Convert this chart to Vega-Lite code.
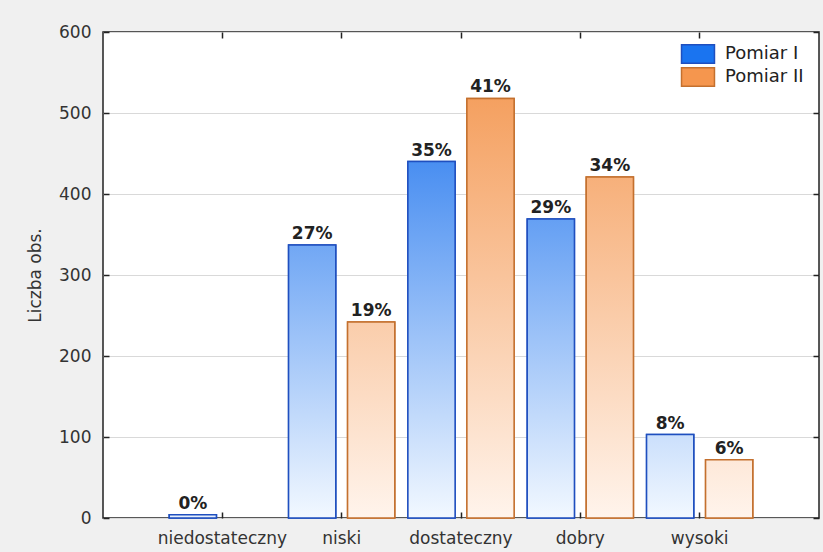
{
  "$schema": "https://vega.github.io/schema/vega-lite/v6.json",
  "width": 716,
  "height": 486,
  "autosize": "none",
  "padding": {"left": 103, "top": 32, "right": 4, "bottom": 34},
  "background": "#f0f0f0",
  "config": {
    "view": {"fill": "white", "stroke": "#222", "strokeWidth": 1.5},
    "font": "DejaVu Sans",
    "axis": {"labelFont": "DejaVu Sans", "labelColor": "#333", "titleColor": "#333", "domain": false, "tickColor": "#222", "ticks": true, "tickSize": -6, "tickWidth": 1.5, "labelFontSize": 17},
    "legend": {"labelFont": "DejaVu Sans", "labelFontSize": 18, "labelColor": "#222"}
  },
  "data": {
    "values": [
      {"Kategoria": "niedostateczny", "Pomiar": "Pomiar I", "Liczba": 4, "label": "0%"},
      {"Kategoria": "niedostateczny", "Pomiar": "Pomiar II", "Liczba": 0, "label": null},
      {"Kategoria": "niski", "Pomiar": "Pomiar I", "Liczba": 337, "label": "27%"},
      {"Kategoria": "niski", "Pomiar": "Pomiar II", "Liczba": 242, "label": "19%"},
      {"Kategoria": "dostateczny", "Pomiar": "Pomiar I", "Liczba": 440, "label": "35%"},
      {"Kategoria": "dostateczny", "Pomiar": "Pomiar II", "Liczba": 518, "label": "41%"},
      {"Kategoria": "dobry", "Pomiar": "Pomiar I", "Liczba": 369, "label": "29%"},
      {"Kategoria": "dobry", "Pomiar": "Pomiar II", "Liczba": 421, "label": "34%"},
      {"Kategoria": "wysoki", "Pomiar": "Pomiar I", "Liczba": 103, "label": "8%"},
      {"Kategoria": "wysoki", "Pomiar": "Pomiar II", "Liczba": 72, "label": "6%"}
    ]
  },
  "resolve": {"axis": {"x": "independent", "y": "independent"}},
  "layer": [
    {
      "mark": {"type": "bar", "strokeWidth": 1.5},
      "encoding": {
        "x": {"field": "Kategoria", "type": "nominal", "sort": ["niedostateczny", "niski", "dostateczny", "dobry", "wysoki"], "scale": {"paddingInner": 0.11, "paddingOuter": 0.555}, "axis": {"title": null, "labelAngle": 0, "labelPadding": 18, "grid": false, "ticks": true, "tickSize": -6}},
        "xOffset": {"field": "Pomiar", "type": "nominal", "scale": {"paddingInner": 0.2, "paddingOuter": 0}},
        "y": {"field": "Liczba", "type": "quantitative", "scale": {"domain": [0, 600], "nice": false}, "axis": {"title": "Liczba obs.", "titleFontSize": 17, "titleFontWeight": "normal", "titlePadding": 14, "values": [0, 100, 200, 300, 400, 500, 600], "labelPadding": 18, "grid": true, "gridColor": "#d9d9d9", "ticks": true, "tickSize": -6}},
        "color": {"field": "Pomiar", "type": "nominal", "scale": {"range": ["#1a74f0", "#f5964e"]}, "legend": {"title": null, "orient": "none", "legendX": 585, "legendY": 12, "symbolType": "M-1.8,-1H1.8V1H-1.8Z", "symbolSize": 335, "symbolStrokeWidth": 1.5, "symbolOpacity": 1, "rowPadding": -4, "labelOffset": 17, "padding": 0}},
        "stroke": {"field": "Pomiar", "type": "nominal", "scale": {"range": ["#1f4fbf", "#c4702e"]}, "legend": {"title": null}},
        "strokeOpacity": {"condition": {"test": "datum.Liczba === 0", "value": 0}, "value": 1}
      }
    },
    {
      "mark": {"type": "bar", "strokeWidth": 1.5},
      "encoding": {
        "x": {"field": "Kategoria", "type": "nominal", "sort": ["niedostateczny", "niski", "dostateczny", "dobry", "wysoki"], "axis": null},
        "xOffset": {"field": "Pomiar", "type": "nominal"},
        "y": {"field": "Liczba", "type": "quantitative", "axis": null},
        "fill": {
          "condition": [
            {"test": "datum.Pomiar==='Pomiar I' && datum.Kategoria==='niski'", "value": {"gradient": "linear", "x1": 0, "y1": -0.780, "x2": 0, "y2": 1, "stops": [{"offset": 0, "color": "#0c68ec"}, {"offset": 1, "color": "#f2f8ff"}]}},
            {"test": "datum.Pomiar==='Pomiar I' && datum.Kategoria==='dostateczny'", "value": {"gradient": "linear", "x1": 0, "y1": -0.364, "x2": 0, "y2": 1, "stops": [{"offset": 0, "color": "#0c68ec"}, {"offset": 1, "color": "#f2f8ff"}]}},
            {"test": "datum.Pomiar==='Pomiar I' && datum.Kategoria==='dobry'", "value": {"gradient": "linear", "x1": 0, "y1": -0.626, "x2": 0, "y2": 1, "stops": [{"offset": 0, "color": "#0c68ec"}, {"offset": 1, "color": "#f2f8ff"}]}},
            {"test": "datum.Pomiar==='Pomiar I' && datum.Kategoria==='wysoki'", "value": {"gradient": "linear", "x1": 0, "y1": -4.825, "x2": 0, "y2": 1, "stops": [{"offset": 0, "color": "#0c68ec"}, {"offset": 1, "color": "#f2f8ff"}]}},
            {"test": "datum.Pomiar==='Pomiar II' && datum.Kategoria==='niski'", "value": {"gradient": "linear", "x1": 0, "y1": -1.479, "x2": 0, "y2": 1, "stops": [{"offset": 0, "color": "#f3934a"}, {"offset": 1, "color": "#fff4ec"}]}},
            {"test": "datum.Pomiar==='Pomiar II' && datum.Kategoria==='dostateczny'", "value": {"gradient": "linear", "x1": 0, "y1": -0.158, "x2": 0, "y2": 1, "stops": [{"offset": 0, "color": "#f3934a"}, {"offset": 1, "color": "#fff4ec"}]}},
            {"test": "datum.Pomiar==='Pomiar II' && datum.Kategoria==='dobry'", "value": {"gradient": "linear", "x1": 0, "y1": -0.425, "x2": 0, "y2": 1, "stops": [{"offset": 0, "color": "#f3934a"}, {"offset": 1, "color": "#fff4ec"}]}},
            {"test": "datum.Pomiar==='Pomiar II' && datum.Kategoria==='wysoki'", "value": {"gradient": "linear", "x1": 0, "y1": -7.333, "x2": 0, "y2": 1, "stops": [{"offset": 0, "color": "#f3934a"}, {"offset": 1, "color": "#fff4ec"}]}}
          ],
          "value": "#e6f0fd"
        },
        "stroke": {"condition": {"test": "datum.Pomiar==='Pomiar I'", "value": "#1f4fbf"}, "value": "#c4702e"},
        "strokeOpacity": {"condition": {"test": "datum.Liczba === 0", "value": 0}, "value": 1}
      }
    },
    {
      "transform": [{"filter": "isValid(datum.label)"}],
      "mark": {"type": "text", "baseline": "bottom", "dy": -2, "fontWeight": "bold", "fontSize": 17, "font": "DejaVu Sans", "color": "#222"},
      "encoding": {
        "x": {"field": "Kategoria", "type": "nominal", "sort": ["niedostateczny", "niski", "dostateczny", "dobry", "wysoki"], "axis": {"orient": "top", "labels": false, "title": null, "grid": false, "ticks": true, "tickSize": -6}},
        "xOffset": {"field": "Pomiar", "type": "nominal"},
        "y": {"field": "Liczba", "type": "quantitative", "axis": {"orient": "right", "labels": false, "title": null, "grid": false, "ticks": true, "tickSize": -6, "values": [0, 100, 200, 300, 400, 500, 600]}},
        "text": {"field": "label", "type": "nominal"}
      }
    }
  ]
}
